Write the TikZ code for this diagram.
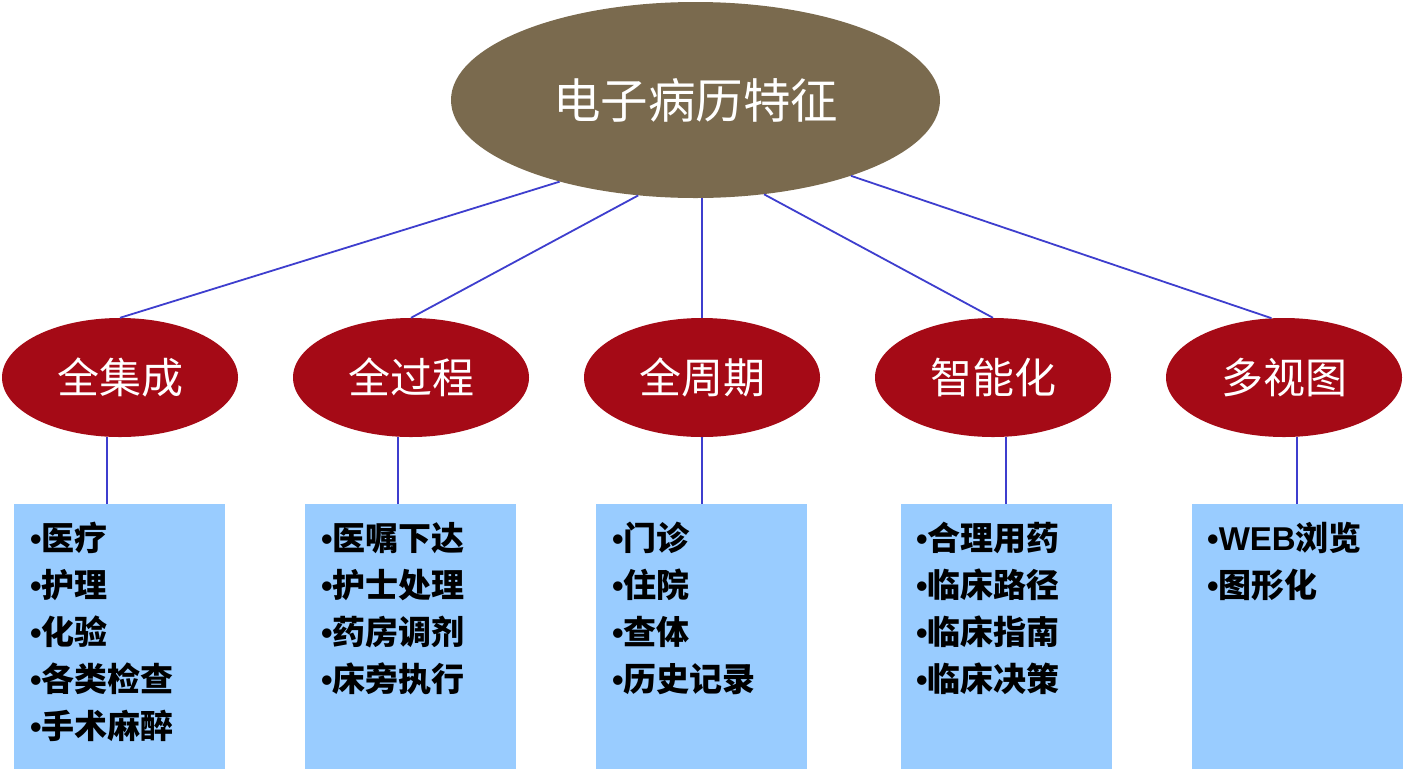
\documentclass[tikz,border=0pt]{standalone}
\usepackage{fontspec}
\setmainfont{Noto Sans CJK SC}
\newfontfamily\latinb{Liberation Sans}
\usetikzlibrary{shapes.geometric}
\definecolor{rootc}{HTML}{7A6A4E}
\definecolor{redc}{HTML}{A50A16}
\definecolor{boxc}{HTML}{99CCFF}
\definecolor{linec}{HTML}{3E3ECE}
\newcommand\itembullet{{\latinb\bfseries •}}
\newcommand\lowertext[1]{\raisebox{-3pt}{#1}}
\begin{document}
\begin{tikzpicture}[x=1pt,y=-1pt,
  rootnode/.style={ellipse, fill=rootc, minimum width=489pt, minimum height=196pt, inner sep=0pt, text=white, font=\fontsize{47.5}{50}\selectfont},
  subnode/.style={ellipse, fill=redc, minimum width=236pt, minimum height=119pt, inner sep=0pt, text=white, font=\fontsize{42}{44}\selectfont},
  itembox/.style={rectangle, fill=boxc, minimum width=211pt, minimum height=265pt, inner sep=0pt, anchor=north west},
  item/.style={anchor=base west, inner sep=0pt, text=black, font=\fontsize{33}{36}\selectfont\bfseries},
  link/.style={draw=linec, line width=1.8pt}]
\useasboundingbox (0,0) rectangle (1404,769);
\fill[white] (0,0) rectangle (1404,769);

\node[rootnode] (root) at (695.5,100) {\lowertext{电子病历特征}};

\node[subnode] (c1) at (120,377.5) {\lowertext{全集成}};
\node[subnode] (c2) at (411,377.5) {\lowertext{全过程}};
\node[subnode] (c3) at (702,377.5) {\lowertext{全周期}};
\node[subnode] (c4) at (993,377.5) {\lowertext{智能化}};
\node[subnode] (c5) at (1284,377.5) {\lowertext{多视图}};

\node[itembox] (b1) at (14,504) {};
\node[itembox] (b2) at (305,504) {};
\node[itembox] (b3) at (596,504) {};
\node[itembox] (b4) at (901,504) {};
\node[itembox] (b5) at (1192,504) {};

% connectors root -> children
\draw[link] (root.211.6) -- (c1.north);
\draw[link] (root.239.2) -- (c2.north);
\draw[link] (c3.north |- root.south) -- (c3.north);
\draw[link] (root.306.2) -- (c4.north);
\draw[link] (root.334.6) -- (c5.102);

% connectors children -> boxes
\draw[link] ([xshift=-13pt]c1.south) -- ([xshift=-13pt]c1.south |- b1.north);
\draw[link] ([xshift=-13pt]c2.south) -- ([xshift=-13pt]c2.south |- b2.north);
\draw[link] (c3.south) -- (c3.south |- b3.north);
\draw[link] ([xshift=13pt]c4.south) -- ([xshift=13pt]c4.south |- b4.north);
\draw[link] ([xshift=13pt]c5.south) -- ([xshift=13pt]c5.south |- b5.north);

% box 1
\node[item] (i11) at (30,550) {\itembullet 医疗};
\node[item] (i12) at (30,597) {\itembullet 护理};
\node[item] (i13) at (30,644) {\itembullet 化验};
\node[item] (i14) at (30,691) {\itembullet 各类检查};
\node[item] (i15) at (30,738) {\itembullet 手术麻醉};
% box 2
\node[item] (i21) at (321,550) {\itembullet 医嘱下达};
\node[item] (i22) at (321,597) {\itembullet 护士处理};
\node[item] (i23) at (321,644) {\itembullet 药房调剂};
\node[item] (i24) at (321,691) {\itembullet 床旁执行};
% box 3
\node[item] (i31) at (612,550) {\itembullet 门诊};
\node[item] (i32) at (612,597) {\itembullet 住院};
\node[item] (i33) at (612,644) {\itembullet 查体};
\node[item] (i34) at (612,691) {\itembullet 历史记录};
% box 4
\node[item] (i41) at (916,550) {\itembullet 合理用药};
\node[item] (i42) at (916,597) {\itembullet 临床路径};
\node[item] (i43) at (916,644) {\itembullet 临床指南};
\node[item] (i44) at (916,691) {\itembullet 临床决策};
% box 5
\node[item] (i51) at (1207,550) {\itembullet{\latinb\bfseries WEB}浏览};
\node[item] (i52) at (1207,597) {\itembullet 图形化};
\end{tikzpicture}
\end{document}
